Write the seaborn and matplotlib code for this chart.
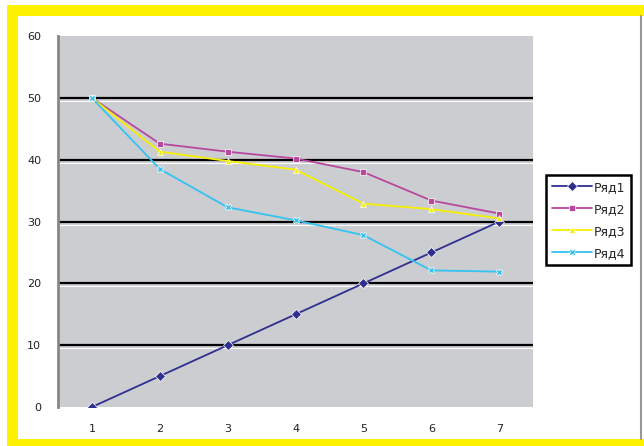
import matplotlib
matplotlib.use("Agg")
import matplotlib.pyplot as plt
from matplotlib.patches import Rectangle
import numpy as np
import pandas as pd
import seaborn as sns

sns.set_style("white")
plt.rcParams['font.family'] = ['DejaVu Sans']

# данные
x_vals = [1, 2, 3, 4, 5, 6, 7]
ryad1 = [0, 5, 10, 15, 20, 25, 30]
ryad2 = [50, 42.6, 41.3, 40.2, 38, 33.4, 31.3]
ryad3 = [50, 41.3, 39.8, 38.4, 32.9, 32.0, 30.5]
ryad4 = [50, 38.5, 32.3, 30.2, 27.8, 22.1, 21.9]
names = ["Ряд1", "Ряд2", "Ряд3", "Ряд4"]
y_ticks = [0, 10, 20, 30, 40, 50, 60]

df = pd.DataFrame({
    "x": x_vals * 4,
    "y": ryad1 + ryad2 + ryad3 + ryad4,
    "series": np.repeat(names, len(x_vals)),
})

colors = ["#2e2f8f", "#b8489e", "#f5f000", "#33c3f0"]
markers = ["D", "s", "^", "X"]

W, H = 644, 446
fig = plt.figure(figsize=(6.44, 4.46), dpi=100)
fig.patch.set_facecolor("white")
# жёлтая рамка
fig.patches.append(Rectangle((7 / W, 0), 1, (H - 5) / H, transform=fig.transFigure,
                             facecolor="#fff200", edgecolor="none", zorder=-10))
fig.patches.append(Rectangle((18 / W, 7 / H), 1, (439 - 16) / H,
                             transform=fig.transFigure, facecolor="white",
                             edgecolor="none", zorder=-9))
fig.lines.append(plt.Line2D([641 / W, 641 / W], [7 / H, (H - 16) / H],
                            transform=fig.transFigure, color="#999999", lw=1.5))

ax = fig.add_axes([0.090, 0.0874, 0.738, 0.8316])
ax.set_facecolor("#cbcdd1")

for yv in y_ticks[1:-1]:
    ax.axhline(yv, color="black", lw=1.6, zorder=1)
    ax.axhline(yv - 0.5, color="white", lw=0.8, zorder=1)

sns.lineplot(data=df, x="x", y="y", hue="series", style="series",
             palette=colors, markers=markers, dashes=False, lw=1.3,
             markersize=5, markeredgewidth=0.5, ax=ax, zorder=3)

ax.set_xlim(0.5, 7.5)
ax.set_ylim(0, 60)
ax.set_xticks(x_vals)
ax.set_xticks(np.arange(1.5, 7.5, 1), minor=True)
ax.set_yticks(y_ticks)
ax.tick_params(axis="x", which="major", length=0, pad=12, labelsize=8, labelcolor="#222222")
ax.tick_params(axis="x", which="minor", length=3, color="#777777", direction="out")
ax.tick_params(axis="y", length=4, color="#777777", labelsize=8, pad=8, labelcolor="#222222")
ax.set_xlabel("")
ax.set_ylabel("")
for s in ["top", "right"]:
    ax.spines[s].set_visible(False)
ax.spines["left"].set_color("#888888")
ax.spines["left"].set_linewidth(2)
ax.spines["bottom"].set_visible(False)

leg = ax.legend(loc="upper left", bbox_to_anchor=(546 / W, 1 - 175 / H),
                bbox_transform=fig.transFigure, borderaxespad=0, frameon=True,
                fancybox=False, edgecolor="black", fontsize=9, handlelength=3.2,
                borderpad=0.45, labelspacing=0.72, handletextpad=0.2)
leg.get_frame().set_linewidth(1.8)
leg.get_frame().set_facecolor("white")
leg.get_frame().set_alpha(1)

fig.savefig("out.png", dpi=100, facecolor=fig.get_facecolor())
